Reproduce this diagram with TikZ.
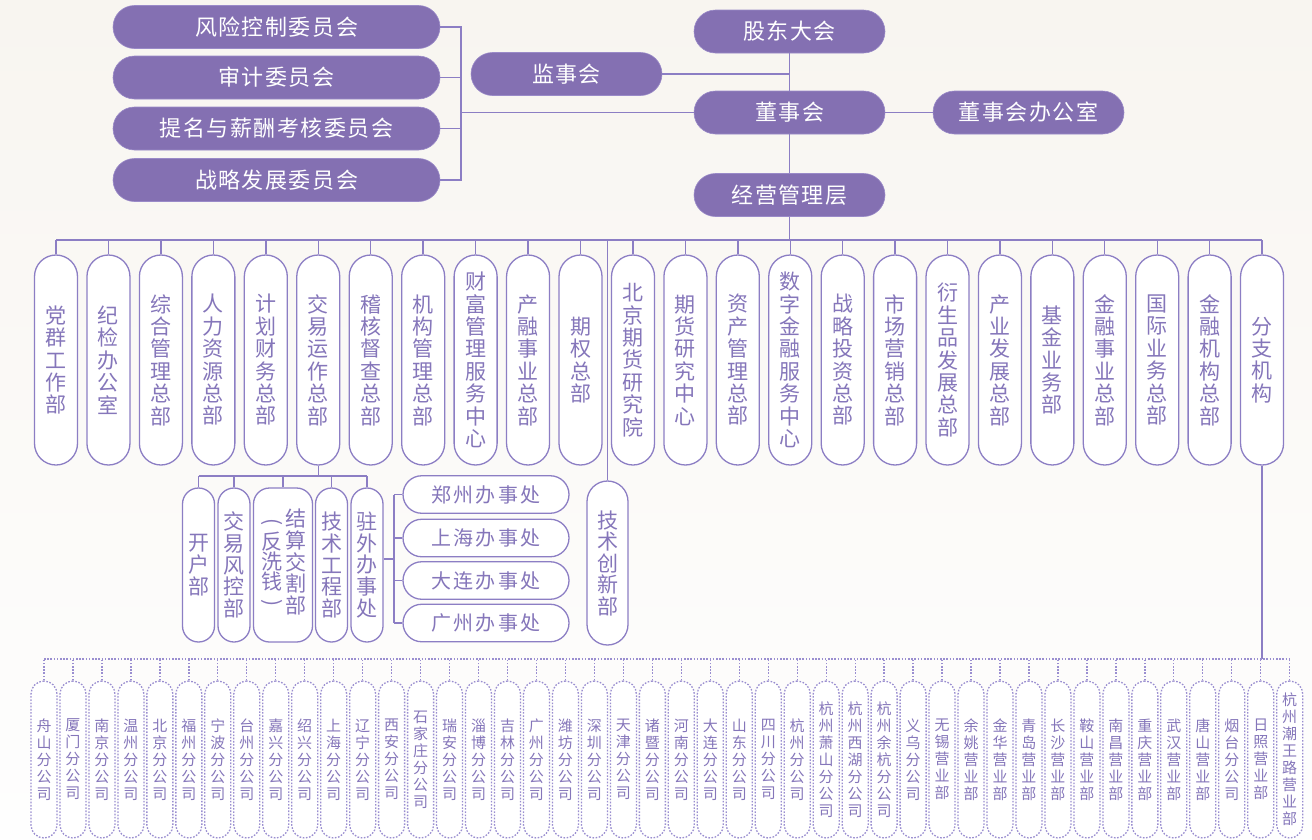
\documentclass[tikz,border=0pt]{standalone}
\usepackage{fontspec}
\setmainfont{Noto Sans CJK SC}
\usetikzlibrary{calc}
\definecolor{pfill}{HTML}{8470B2}
\definecolor{pedge}{HTML}{9A8AC8}
\definecolor{lc}{HTML}{8C7EC4}
\definecolor{tc}{HTML}{8576BA}
\definecolor{dc}{HTML}{9A8ED0}
\definecolor{bgtop}{HTML}{F8F5F0}
\definecolor{bgbot}{HTML}{FEFEFE}
\ExplSyntaxOn
\tl_new:N \l_vt_tl
\NewDocumentCommand\vt{O{22.4pt}m}{
  \tl_set:Nx \l_vt_tl {#2}
  \vbox{\baselineskip=#1\lineskiplimit=-\maxdimen\lineskip=0pt
    \tl_map_inline:Nn \l_vt_tl {\hbox{##1}}}
}
\NewDocumentCommand\lsp{O{1.5pt}m}{
  \tl_set:Nx \l_vt_tl {#2}
  \hbox{\tl_map_inline:Nn \l_vt_tl {\kern\dim_eval:n{(#1)/2}##1\kern\dim_eval:n{(#1)/2}}}
}
\ExplSyntaxOff
\begin{document}
\begin{tikzpicture}[x=1pt,y=-1pt,
  fp/.style={rectangle,rounded corners=21.5pt,fill=pfill,draw=pedge,line width=0.6pt,
    minimum width=#1,minimum height=43pt,inner sep=0pt,text=white,font=\fontsize{22}{24}\selectfont},
  dp/.style={rectangle,rounded corners=21.5pt,fill=white,draw=lc,line width=1.3pt,
    minimum width=43pt,minimum height=210pt,inner sep=0pt,text=tc,font=\fontsize{21}{22}\selectfont},
  subp/.style={rectangle,rounded corners=16pt,fill=white,draw=lc,line width=1.3pt,
    minimum width=#1,minimum height=154pt,inner sep=0pt,text=tc,font=\fontsize{21}{22}\selectfont},
  offp/.style={rectangle,rounded corners=18.75pt,fill=white,draw=lc,line width=1.3pt,
    minimum width=166pt,minimum height=37.5pt,inner sep=0pt,text=tc,font=\fontsize{20}{22}\selectfont},
  tp/.style={rectangle,rounded corners=20.5pt,fill=white,draw=lc,line width=1.3pt,
    minimum width=41pt,minimum height=164pt,inner sep=0pt,text=tc,font=\fontsize{21}{22}\selectfont},
  bp/.style={rectangle,rounded corners=13pt,fill=white,draw=dc,line width=1.3pt,
    dash pattern=on 1.6pt off 1.6pt,minimum width=26pt,minimum height=157pt,inner sep=0pt,
    text=tc,font=\fontsize{15}{17}\selectfont},
  txt/.style={text=tc,inner sep=0pt,font=\fontsize{21}{22}\selectfont},
  ln/.style={draw=lc,line width=1.4pt},
  dl/.style={draw=dc,line width=1.3pt,dash pattern=on 1.6pt off 1.6pt}]

\fill[top color=bgtop,bottom color=bgbot] (0,0) rectangle (1312,839);
\useasboundingbox (0,0) rectangle (1312,839);

% top level
\node[fp=327pt] (fk) at (276.5,27) {\lsp{风险控制委员会}};
\node[fp=327pt] (sj) at (276.5,77.5) {\lsp{审计委员会}};
\node[fp=327pt] (tm) at (276.5,128.5) {\lsp{提名与薪酬考核委员会}};
\node[fp=327pt] (zl) at (276.5,180) {\lsp{战略发展委员会}};
\node[fp=191pt] (jsh) at (566.5,74) {\lsp{监事会}};
\node[fp=191pt] (gd) at (789.5,31.5) {\lsp{股东大会}};
\node[fp=191pt] (dsh) at (789.5,112.5) {\lsp{董事会}};
\node[fp=191pt] (bgs) at (1028.5,112.5) {\lsp{董事会办公室}};
\node[fp=191pt] (jy) at (789.5,195) {\lsp{经营管理层}};

\coordinate (brk) at (461,0);
\draw[ln] (fk.east) -- (fk.east -| brk) -- (zl.east -| brk) -- (zl.east);
\draw[ln] (sj.east) -- (sj.east -| brk);
\draw[ln] (tm.east) -- (tm.east -| brk);
\draw[ln] (brk |- dsh.west) -- (dsh.west);
\draw[ln] (jsh.east) -- (jsh.east -| gd.south);
\draw[ln] (gd.south) -- (dsh.north);
\draw[ln] (dsh.south) -- (jy.north);
\draw[ln] (dsh.east) -- (bgs.west);

% departments
\coordinate (bus) at (0,240);
\foreach \nm [count=\k from 0] in {党群工作部,纪检办公室,综合管理总部,人力资源总部,计划财务总部,交易运作总部,稽核督查总部,机构管理总部,财富管理服务中心,产融事业总部,期权总部}{
  \node[dp] (d\k) at ({56+52.45*\k},360) {\vt{\nm}};
  \draw[ln] (d\k.north) -- (d\k.north |- bus);
}
\foreach \nm [count=\k from 0] in {北京期货研究院,期货研究中心,资产管理总部,数字金融服务中心,战略投资总部,市场营销总部,衍生品发展总部,产业发展总部,基金业务部,金融事业总部,国际业务总部,金融机构总部,分支机构}{
  \node[dp] (r\k) at ({633+52.42*\k},360) {\vt{\nm}};
  \draw[ln] (r\k.north) -- (r\k.north |- bus);
}
\draw[ln] (d0.north |- bus) -- (r12.north |- bus);
\draw[ln] (jy.south) -- (jy.south |- bus);

% technology innovation
\node[tp] (jscx) at (607.5,563) {\vt[21.5pt]{技术创新部}};
\draw[ln] (jscx.north) -- (jscx.north |- bus);

% trading operations subtree
\coordinate (sbus) at (0,476);
\node[subp=32pt] (kh) at (198.5,565) {\vt[21.7pt]{开户部}};
\node[subp=32pt] (fk2) at (234,565) {\vt[21.7pt]{交易风控部}};
\node[subp=59pt] (js2) at (283,565) {};
\node[subp=32pt] (jsgc) at (331.5,565) {\vt[21.7pt]{技术工程部}};
\node[subp=32pt] (zw) at (367,565) {\vt[21.7pt]{驻外办事处}};
\node[txt] (js2a) at (296,562) {\vt[21.7pt]{结算交割部}};
\node[txt] (js2b) at (272,562) {\vt[20pt]{反洗钱}};
\node[txt,rotate=-90] (js2p) at (272,522) {(};
\node[txt,rotate=-90] (js2q) at (272,603) {)};
\draw[ln] (d5.south) -- (d5.south |- sbus);
\draw[ln] (kh.north |- sbus) -- (zw.north |- sbus);
\foreach \n in {kh,fk2,js2,jsgc,zw}{
  \draw[ln] (\n.north) -- (\n.north |- sbus);
}

% offices
\coordinate (omid) at (394,559);
\node[offp] (o1) at (486,494.5) {\lsp[2.3pt]{郑州办事处}};
\node[offp] (o2) at (486,538) {\lsp[2.3pt]{上海办事处}};
\node[offp] (o3) at (486,580.5) {\lsp[2.3pt]{大连办事处}};
\node[offp] (o4) at (486,623) {\lsp[2.3pt]{广州办事处}};
\draw[ln] (zw.east |- omid) -- (omid);
\draw[ln] (o1.west -| omid) -- (o4.west -| omid);
\foreach \n in {o1,o2,o3,o4}{
  \draw[ln] (\n.west) -- (\n.west -| omid);
}

% branches
\coordinate (dbus) at (0,659);
\draw[ln] (r12.south) -- (r12.south |- dbus);
\foreach \nm [count=\k from 0] in {舟山分公司,厦门分公司,南京分公司,温州分公司,北京分公司,福州分公司,宁波分公司,台州分公司,嘉兴分公司,绍兴分公司,上海分公司,辽宁分公司,西安分公司,石家庄分公司,瑞安分公司,淄博分公司,吉林分公司,广州分公司,潍坊分公司,深圳分公司,天津分公司,诸暨分公司,河南分公司,大连分公司,山东分公司,四川分公司,杭州分公司,杭州萧山分公司,杭州西湖分公司,杭州余杭分公司,义乌分公司,无锡营业部,余姚营业部,金华营业部,青岛营业部,长沙营业部,鞍山营业部,南昌营业部,重庆营业部,武汉营业部,唐山营业部,烟台分公司,日照营业部,杭州潮王路营业部}{
  \node[bp] (b\k) at ({44+28.97*\k},759.5) {\vt[17pt]{\nm}};
  \draw[dl] (b\k.north) -- (b\k.north |- dbus);
}
\draw[dl] (b0.north |- dbus) -- (b43.north |- dbus);
\end{tikzpicture}
\end{document}
